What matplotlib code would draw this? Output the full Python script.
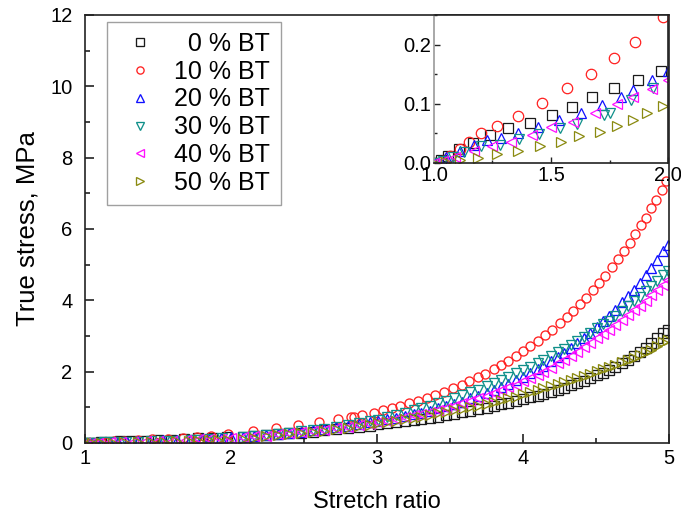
import matplotlib
matplotlib.use("Agg")
import matplotlib.pyplot as plt
from matplotlib.ticker import MultipleLocator, FormatStrFormatter

plt.rcParams['font.family'] = ['Liberation Sans', 'DejaVu Sans']

labels = ["\u20070 % BT", "10 % BT", "20 % BT", "30 % BT", "40 % BT", "50 % BT"]

grid_hi = [2.08, 2.16, 2.24, 2.32, 2.40, 2.48, 2.56, 2.64, 2.72, 2.80, 2.88, 2.95,
           3.01, 3.07, 3.13, 3.19, 3.25, 3.30, 3.36, 3.42, 3.47, 3.53, 3.58, 3.64,
           3.69, 3.75, 3.80, 3.85, 3.90, 3.95, 4.00, 4.05, 4.10, 4.14, 4.19, 4.24,
           4.28, 4.33, 4.37, 4.42, 4.46, 4.51, 4.55, 4.59, 4.63, 4.68, 4.72, 4.76,
           4.80, 4.84, 4.88, 4.92, 4.96, 4.99]

# 0 % BT
x_bt0 = [1.00, 1.03, 1.06, 1.107, 1.168, 1.239, 1.318, 1.41, 1.503, 1.591, 1.675,
         1.771, 1.87, 1.97] + grid_hi
y_bt0 = [0.0, 0.005, 0.011, 0.024, 0.033, 0.047, 0.059, 0.068, 0.081, 0.095, 0.111,
         0.127, 0.14, 0.155,
         0.18, 0.20, 0.22, 0.25, 0.27, 0.29, 0.32, 0.36, 0.39, 0.42, 0.45, 0.49,
         0.52, 0.55, 0.58, 0.61, 0.64, 0.67, 0.71, 0.74, 0.78, 0.82, 0.86, 0.90,
         0.94, 0.99, 1.03, 1.08, 1.12, 1.17, 1.22, 1.28, 1.33, 1.38, 1.44, 1.50,
         1.55, 1.62, 1.68, 1.75, 1.82, 1.90, 1.97, 2.04, 2.13, 2.24, 2.33, 2.44,
         2.55, 2.67, 2.80, 2.93, 3.08, 3.18]

# 10 % BT
x_bt10 = [1.00, 1.04, 1.07, 1.11, 1.15, 1.20, 1.27, 1.36, 1.46, 1.57, 1.67, 1.77,
          1.86, 1.98, 2.15, 2.31, 2.46, 2.60, 2.73, 2.82, 2.84, 2.90, 2.98, 3.04,
          3.10, 3.16, 3.22, 3.28, 3.34, 3.40, 3.46, 3.52, 3.58, 3.63, 3.69, 3.74,
          3.80, 3.85, 3.90, 3.95, 4.00, 4.05, 4.10, 4.15, 4.20, 4.25, 4.30, 4.34,
          4.39, 4.43, 4.48, 4.52, 4.56, 4.61, 4.65, 4.69, 4.73, 4.77, 4.81, 4.84,
          4.88, 4.91, 4.95, 4.98]
y_bt10 = [0.0, 0.004, 0.011, 0.024, 0.035, 0.051, 0.063, 0.080, 0.101, 0.126, 0.151,
          0.177, 0.205, 0.247, 0.34, 0.42, 0.50, 0.58, 0.66, 0.72, 0.74, 0.78, 0.85,
          0.919, 0.979, 1.044, 1.114, 1.188, 1.266, 1.351, 1.440, 1.536, 1.638,
          1.728, 1.842, 1.944, 2.073, 2.187, 2.307, 2.434, 2.568, 2.709, 2.858,
          3.015, 3.181, 3.356, 3.541, 3.696, 3.899, 4.070, 4.294, 4.482, 4.678,
          4.935, 5.151, 5.376, 5.612, 5.857, 6.113, 6.313, 6.589, 6.805, 7.103, 7.334]

# 20 % BT
x_bt20 = [1.00, 1.05, 1.11, 1.17, 1.228, 1.285, 1.36, 1.446, 1.536, 1.63, 1.72,
          1.80, 1.85, 1.93, 2.00] + grid_hi
y_bt20 = [0.0, 0.01, 0.02, 0.03, 0.039, 0.042, 0.05, 0.06, 0.072, 0.085, 0.098,
          0.111, 0.123, 0.14, 0.155,
          0.18, 0.21, 0.23, 0.26, 0.29, 0.32, 0.36, 0.40, 0.44, 0.48, 0.53, 0.58,
          0.62, 0.66, 0.70, 0.75, 0.80, 0.85, 0.91, 0.97, 1.03, 1.10, 1.16, 1.25,
          1.32, 1.40, 1.48, 1.57, 1.66, 1.76, 1.85, 1.96, 2.07, 2.17, 2.29, 2.42,
          2.53, 2.67, 2.79, 2.95, 3.08, 3.26, 3.41, 3.56, 3.73, 3.94, 4.11, 4.30,
          4.49, 4.70, 4.91, 5.14, 5.37, 5.55]

# 30 % BT
x_bt30 = [1.00, 1.04, 1.08, 1.13, 1.20, 1.28, 1.364, 1.45, 1.54, 1.61, 1.727,
          1.753, 1.84, 1.937] + grid_hi
y_bt30 = [0.0, 0.004, 0.010, 0.018, 0.028, 0.030, 0.040, 0.049, 0.059, 0.066, 0.081,
          0.084, 0.106, 0.127,
          0.17, 0.20, 0.23, 0.26, 0.29, 0.33, 0.36, 0.40, 0.45, 0.50, 0.56, 0.61,
          0.65, 0.72, 0.78, 0.85, 0.92, 0.98, 1.05, 1.13, 1.19, 1.27, 1.34, 1.43,
          1.50, 1.60, 1.68, 1.77, 1.86, 1.95, 2.04, 2.14, 2.25, 2.33, 2.44, 2.55,
          2.64, 2.76, 2.86, 2.98, 3.09, 3.22, 3.33, 3.43, 3.55, 3.71, 3.84, 3.97,
          4.10, 4.25, 4.40, 4.55, 4.70, 4.82]

# 40 % BT
x_bt40 = [1.00, 1.04, 1.09, 1.17, 1.246, 1.33, 1.417, 1.50, 1.595, 1.69, 1.78,
          1.85, 1.93, 2.00] + grid_hi
y_bt40 = [0.0, 0.004, 0.010, 0.020, 0.028, 0.036, 0.047, 0.060, 0.070, 0.085, 0.100,
          0.112, 0.125, 0.14,
          0.16, 0.19, 0.21, 0.24, 0.27, 0.30, 0.33, 0.37, 0.41, 0.45, 0.50, 0.54,
          0.59, 0.63, 0.67, 0.72, 0.78, 0.82, 0.87, 0.93, 0.99, 1.05, 1.11, 1.18,
          1.25, 1.33, 1.40, 1.48, 1.56, 1.64, 1.73, 1.82, 1.92, 2.00, 2.11, 2.23,
          2.32, 2.45, 2.55, 2.68, 2.79, 2.93, 3.05, 3.17, 3.30, 3.46, 3.59, 3.72,
          3.85, 3.99, 4.14, 4.29, 4.44, 4.56]

# 50 % BT
x_bt50 = [1.00, 1.05, 1.11, 1.19, 1.27, 1.36, 1.453, 1.544, 1.62, 1.71, 1.78,
          1.85, 1.91, 1.977] + grid_hi
y_bt50 = [0.0, 0.002, 0.005, 0.008, 0.016, 0.021, 0.028, 0.036, 0.045, 0.053, 0.063,
          0.073, 0.084, 0.097,
          0.12, 0.15, 0.19, 0.22, 0.25, 0.28, 0.31, 0.35, 0.39, 0.43, 0.47, 0.51,
          0.55, 0.58, 0.62, 0.66, 0.70, 0.74, 0.79, 0.84, 0.88, 0.92, 0.96, 1.01,
          1.05, 1.10, 1.15, 1.20, 1.25, 1.30, 1.36, 1.42, 1.48, 1.53, 1.59, 1.65,
          1.70, 1.77, 1.82, 1.89, 1.94, 2.01, 2.07, 2.12, 2.18, 2.26, 2.32, 2.39,
          2.46, 2.54, 2.62, 2.71, 2.82, 2.89]

series = [
    (x_bt0, y_bt0, 's', '#1a1a1a'),
    (x_bt10, y_bt10, 'o', '#ff2020'),
    (x_bt20, y_bt20, '^', '#1010ff'),
    (x_bt30, y_bt30, 'v', '#10908a'),
    (x_bt40, y_bt40, '<', '#ff10ff'),
    (x_bt50, y_bt50, '>', '#8a8a10'),
]

fig = plt.figure(figsize=(6.81, 5.17), dpi=100)
ax = fig.add_axes([85/681, 1 - 443/517, (669-85)/681, (443-15)/517])

handles = []
for (x, y, m, c), lab in zip(series, labels):
    h, = ax.plot(x, y, linestyle='none', marker=m, mfc='none', mec=c,
                 ms=6.5, mew=0.95, label=lab)
    handles.append(h)

ax.set_xlim(1, 5)
ax.set_ylim(0, 12)
ax.xaxis.set_major_locator(MultipleLocator(1))
ax.xaxis.set_minor_locator(MultipleLocator(0.5))
ax.yaxis.set_major_locator(MultipleLocator(2))
ax.yaxis.set_minor_locator(MultipleLocator(1))
ax.tick_params(which='both', direction='in', top=False, right=False,
               labelsize=14.5, width=1.2, color='#222222')
ax.tick_params(which='major', length=6.5)
ax.tick_params(which='minor', length=3.6)
ax.tick_params(axis='x', which='major', pad=4)
ax.tick_params(axis='y', which='major', pad=9)
for s in ax.spines.values():
    s.set_linewidth(1.2)
    s.set_color('#222222')
ax.set_xlabel("Stretch ratio", fontsize=17, labelpad=17)
ax.set_ylabel("True stress, MPa", fontsize=18.5, labelpad=8)

leg = ax.legend(handles=handles, loc='upper left',
                bbox_to_anchor=(107/681, 1 - 22/517), bbox_transform=fig.transFigure,
                borderaxespad=0, fontsize=18, frameon=True, fancybox=False,
                edgecolor='#888888', labelspacing=0.15, handlelength=1.8,
                handletextpad=0.5, borderpad=0.4, markerscale=0.8)
leg.get_frame().set_linewidth(1.0)

# inset
axins = fig.add_axes([434/681, 1 - 163/517, (668-434)/681, (163-15)/517])
axins.set_zorder(5)
axins.set_facecolor('white')
for (x, y, m, c) in series:
    axins.plot(x, y, linestyle='none', marker=m, mfc='none', mec=c, ms=7.5, mew=0.9)
axins.set_xlim(1, 2)
axins.set_ylim(0, 0.25)
axins.xaxis.set_major_locator(MultipleLocator(0.5))
axins.xaxis.set_minor_locator(MultipleLocator(0.25))
axins.yaxis.set_major_locator(MultipleLocator(0.1))
axins.yaxis.set_minor_locator(MultipleLocator(0.05))
axins.xaxis.set_major_formatter(FormatStrFormatter('%.1f'))
axins.yaxis.set_major_formatter(FormatStrFormatter('%.1f'))
axins.tick_params(which='both', direction='in', top=False, right=False,
                  labelsize=14.5, width=1.0, color='#222222')
axins.tick_params(which='major', length=4.5, pad=2)
axins.tick_params(which='minor', length=2.5)
for s in axins.spines.values():
    s.set_linewidth(1.2)
    s.set_color('#222222')
axins.spines['left'].set_color('#999999')

fig.savefig("out.png", dpi=100)
